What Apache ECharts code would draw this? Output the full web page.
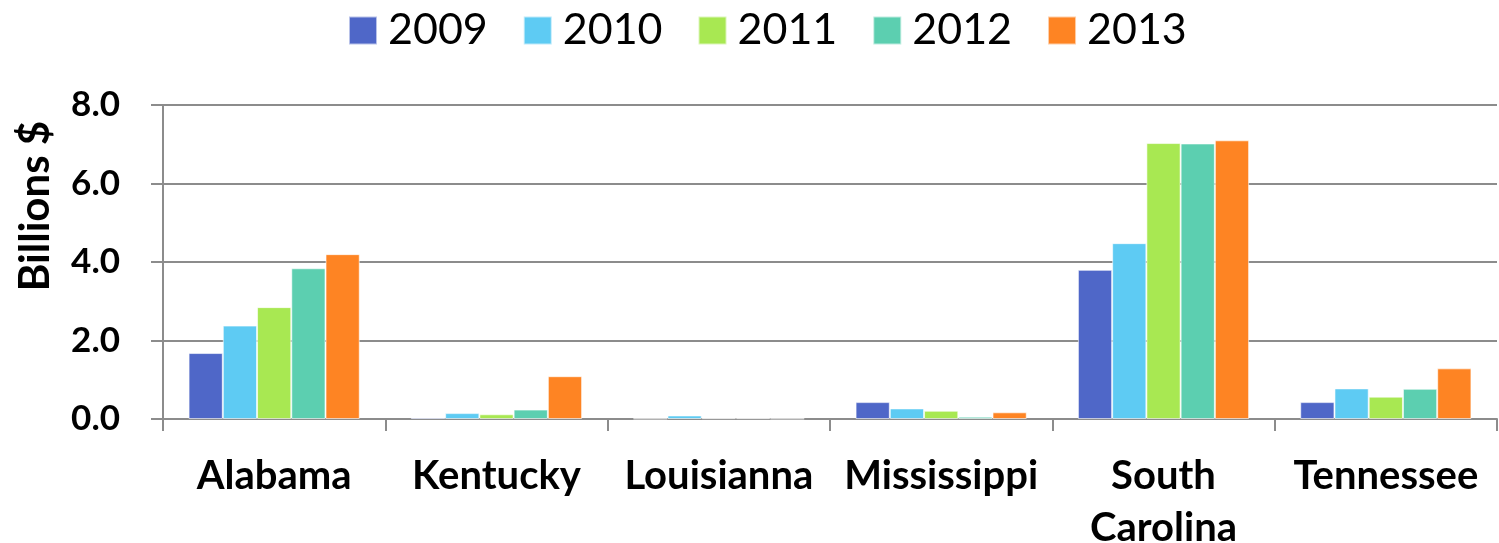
<!DOCTYPE html>
<html>
<head>
<meta charset="utf-8">
<script src="https://cdn.jsdelivr.net/npm/echarts@6/dist/echarts.min.js"></script>
<style>
  html, body { margin: 0; padding: 0; background: #fff; }
  #chart { width: 1499px; height: 543px; }
</style>
</head>
<body>
<div id="chart"></div>
<script>
// States along the category axis
const states = ['Alabama', 'Kentucky', 'Louisianna', 'Mississippi', 'South\nCarolina', 'Tennessee'];
const years = ['2009', '2010', '2011', '2012', '2013'];

// Values in billions of dollars, one array per year
const v2009 = [1.68, 0.04, 0.01, 0.43, 3.80, 0.43];
const v2010 = [2.38, 0.15, 0.09, 0.27, 4.48, 0.78];
const v2011 = [2.85, 0.12, 0.02, 0.21, 7.03, 0.57];
const v2012 = [3.84, 0.24, 0.02, 0.06, 7.02, 0.77];
const v2013 = [4.20, 1.09, 0.01, 0.17, 7.10, 1.29];

const yTicks = [0, 2, 4, 6, 8];
const yTitle = 'Billions $';
const colors = ['#4f67c8', '#5ecbf3', '#a8e852', '#5ccfb0', '#fe8423'];

const seriesData = [v2009, v2010, v2011, v2012, v2013];
const fontFamily = 'Lato, "Noto Sans", sans-serif';

const chart = echarts.init(document.getElementById('chart'));
chart.setOption({
  animation: false,
  textStyle: { fontFamily: fontFamily },
  legend: {
    top: 4,
    left: 343,
    itemWidth: 28,
    itemHeight: 28,
    itemGap: 35,
    icon: 'rect',
    textStyle: { fontSize: 43, color: '#000', fontFamily: fontFamily, lineHeight: 34, padding: [0, 0, 0, 6] },
    data: years
  },
  // Rotated value-axis title, placed a little above the axis centre
  graphic: [{
    type: 'text',
    x: 35,
    y: 206,
    rotation: Math.PI / 2,
    style: {
      text: yTitle,
      fontSize: 42,
      fontWeight: 'bold',
      fill: '#000',
      fontFamily: fontFamily,
      align: 'center',
      verticalAlign: 'middle'
    }
  }],
  grid: { left: 163, right: 2, top: 105, bottom: 124, outerBoundsMode: 'none', containLabel: false },
  xAxis: {
    type: 'category',
    data: states,
    axisLine: { lineStyle: { color: '#8c8c8c', width: 2 } },
    axisTick: { show: true, length: 12, lineStyle: { color: '#8c8c8c', width: 2 } },
    axisLabel: {
      fontSize: 40, fontWeight: 'bold', color: '#000', margin: 31,
      lineHeight: 52, fontFamily: fontFamily, interval: 0
    }
  },
  yAxis: {
    type: 'value',
    min: yTicks[0],
    max: yTicks[yTicks.length - 1],
    interval: 2,
    axisLine: { show: true, lineStyle: { color: '#8c8c8c', width: 2 } },
    axisTick: { show: true, length: 12, lineStyle: { color: '#8c8c8c', width: 2 } },
    splitLine: { lineStyle: { color: '#8c8c8c', width: 2 } },
    axisLabel: {
      fontSize: 35, fontWeight: 'bold', color: '#000', margin: 43, fontFamily: fontFamily,
      formatter: v => v.toFixed(1)
    }
  },
  series: years.map((y, i) => ({
    name: y,
    type: 'bar',
    data: seriesData[i],
    barGap: '0%',
    barCategoryGap: '23%',
    itemStyle: { color: colors[i], borderColor: 'rgba(255,255,255,0.6)', borderWidth: 1 }
  }))
});
</script>
</body>
</html>
